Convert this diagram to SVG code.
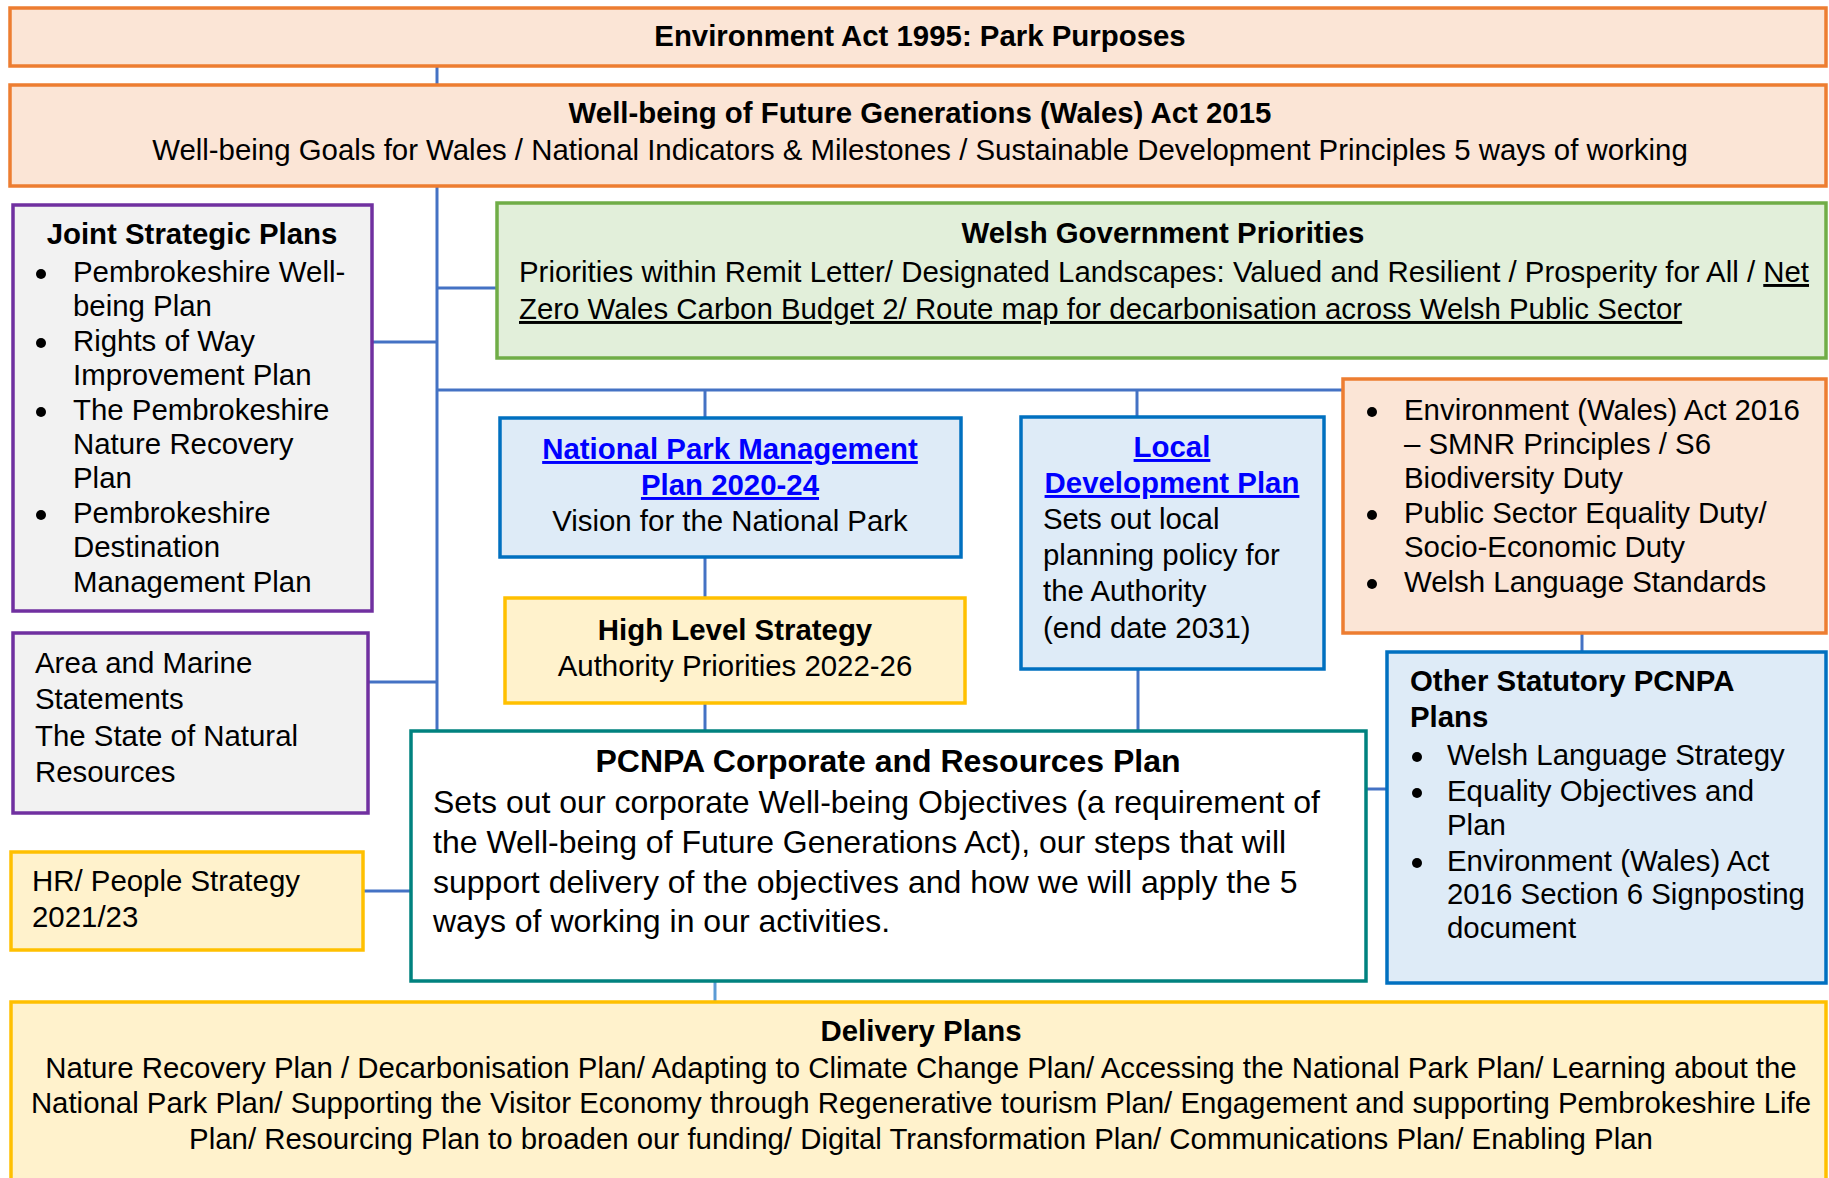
<svg xmlns="http://www.w3.org/2000/svg" width="1829" height="1178" viewBox="0 0 1829 1178">
<style>
text{font-family:"Liberation Sans",Arial,Helvetica,sans-serif;font-size:29.4px;fill:#000}
.b{font-weight:bold}
.c{text-anchor:middle}
.lk{fill:#0000FF;font-weight:bold;text-decoration:underline}
.u{text-decoration:underline}
.big{font-size:32px}
.or{fill:#FBE5D6;stroke:#ED7D31;stroke-width:3.5}
.pu{fill:#F2F2F2;stroke:#7030A0;stroke-width:3.5}
.gr{fill:#E2EFDA;stroke:#70AD47;stroke-width:3.5}
.bl{fill:#DEEBF7;stroke:#0070C0;stroke-width:3.5}
.go{fill:#FFF2CC;stroke:#FFC000;stroke-width:3.5}
.te{fill:#FFFFFF;stroke:#00827F;stroke-width:3.5}
.conn line{stroke:#4472C4;stroke-width:3}
.dot{fill:#000}
</style>
<g id="connectors" class="conn">
<line x1="437" y1="66" x2="437" y2="86"/>
<line x1="437" y1="186" x2="437" y2="731"/>
<line x1="372" y1="342" x2="437" y2="342"/>
<line x1="437" y1="288" x2="497" y2="288"/>
<line x1="437" y1="390" x2="1343" y2="390"/>
<line x1="368" y1="682" x2="437" y2="682"/>
<line x1="705" y1="390" x2="705" y2="418"/>
<line x1="705" y1="557" x2="705" y2="598"/>
<line x1="705" y1="703" x2="705" y2="731"/>
<line x1="1137" y1="390" x2="1137" y2="417"/>
<line x1="1138" y1="669" x2="1138" y2="731"/>
<line x1="1582" y1="633" x2="1582" y2="652"/>
<line x1="1366" y1="789" x2="1387" y2="789"/>
<line x1="363" y1="891" x2="411" y2="891"/>
<line x1="715" y1="981" x2="715" y2="1002" style="stroke:#5B9BD5"/>
</g>
<g id="env1995">
<rect class="or" x="10" y="8" width="1816" height="58"/>
<text class="b c" x="920" y="46">Environment Act 1995: Park Purposes</text>
</g>
<g id="wfg">
<rect class="or" x="10" y="85" width="1816" height="101"/>
<text class="b c" x="920" y="123">Well-being of Future Generations (Wales) Act 2015</text>
<text class="c" x="920" y="160">Well-being Goals for Wales / National Indicators &amp; Milestones / Sustainable Development Principles 5 ways of working</text>
</g>
<g id="jsp">
<rect class="pu" x="13" y="205" width="359" height="406"/>
<text class="b c" x="192" y="244">Joint Strategic Plans</text>
<circle class="dot" cx="41" cy="274" r="5"/>
<circle class="dot" cx="41" cy="343" r="5"/>
<circle class="dot" cx="41" cy="412" r="5"/>
<circle class="dot" cx="41" cy="515" r="5"/>
<text x="73" y="282">Pembrokeshire Well-</text>
<text x="73" y="316">being Plan</text>
<text x="73" y="351">Rights of Way</text>
<text x="73" y="385">Improvement Plan</text>
<text x="73" y="420">The Pembrokeshire</text>
<text x="73" y="454">Nature Recovery</text>
<text x="73" y="488">Plan</text>
<text x="73" y="523">Pembrokeshire</text>
<text x="73" y="557">Destination</text>
<text x="73" y="592">Management Plan</text>
</g>
<g id="wg">
<rect class="gr" x="497" y="203" width="1329" height="155"/>
<text class="b c" x="1163" y="243">Welsh Government Priorities</text>
<text x="519" y="282">Priorities within Remit Letter/ Designated Landscapes: Valued and Resilient / Prosperity for All / <tspan class="u">Net</tspan></text>
<text x="519" y="319" class="u">Zero Wales Carbon Budget 2/ Route map for decarbonisation across Welsh Public Sector</text>
</g>
<g id="npmp">
<rect class="bl" x="500" y="418" width="461" height="139"/>
<text class="lk c" x="730" y="459">National Park Management</text>
<text class="lk c" x="730" y="495">Plan 2020-24</text>
<text class="c" x="730" y="531">Vision for the National Park</text>
</g>
<g id="hls">
<rect class="go" x="505" y="598" width="460" height="105"/>
<text class="b c" x="735" y="640">High Level Strategy</text>
<text class="c" x="735" y="676">Authority Priorities 2022-26</text>
</g>
<g id="ldp">
<rect class="bl" x="1021" y="417" width="303" height="252"/>
<text class="lk c" x="1172" y="457">Local</text>
<text class="lk c" x="1172" y="493">Development Plan</text>
<text x="1043" y="529">Sets out local</text>
<text x="1043" y="565">planning policy for</text>
<text x="1043" y="601">the Authority</text>
<text x="1043" y="638">(end date 2031)</text>
</g>
<g id="env2016">
<rect class="or" x="1343" y="379" width="483" height="254"/>
<circle class="dot" cx="1372" cy="412" r="5"/>
<circle class="dot" cx="1372" cy="515" r="5"/>
<circle class="dot" cx="1372" cy="584" r="5"/>
<text x="1404" y="420">Environment (Wales) Act 2016</text>
<text x="1404" y="454">– SMNR Principles / S6</text>
<text x="1404" y="488">Biodiversity Duty</text>
<text x="1404" y="523">Public Sector Equality Duty/</text>
<text x="1404" y="557">Socio-Economic Duty</text>
<text x="1404" y="592">Welsh Language Standards</text>
</g>
<g id="other">
<rect class="bl" x="1387" y="652" width="439" height="331"/>
<text class="b" x="1410" y="691">Other Statutory PCNPA</text>
<text class="b" x="1410" y="727">Plans</text>
<circle class="dot" cx="1417" cy="757" r="5"/>
<circle class="dot" cx="1417" cy="793" r="5"/>
<circle class="dot" cx="1417" cy="863" r="5"/>
<text x="1447" y="765">Welsh Language Strategy</text>
<text x="1447" y="801">Equality Objectives and</text>
<text x="1447" y="835">Plan</text>
<text x="1447" y="871">Environment (Wales) Act</text>
<text x="1447" y="904">2016 Section 6 Signposting</text>
<text x="1447" y="938">document</text>
</g>
<g id="ams">
<rect class="pu" x="13" y="633" width="355" height="180"/>
<text x="35" y="673">Area and Marine</text>
<text x="35" y="709">Statements</text>
<text x="35" y="746">The State of Natural</text>
<text x="35" y="782">Resources</text>
</g>
<g id="hr">
<rect class="go" x="11" y="852" width="352" height="98"/>
<text x="32" y="891">HR/ People Strategy</text>
<text x="32" y="927">2021/23</text>
</g>
<g id="pcnpa">
<rect class="te" x="411" y="731" width="955" height="250"/>
<text class="b c big" x="888" y="772">PCNPA Corporate and Resources Plan</text>
<text class="big" x="433" y="813">Sets out our corporate Well-being Objectives (a requirement of</text>
<text class="big" x="433" y="853">the Well-being of Future Generations Act), our steps that will</text>
<text class="big" x="433" y="893">support delivery of the objectives and how we will apply the 5</text>
<text class="big" x="433" y="932">ways of working in our activities.</text>
</g>
<g id="delivery">
<rect class="go" x="11" y="1002" width="1815" height="200"/>
<text class="b c" x="921" y="1041">Delivery Plans</text>
<text class="c" x="921" y="1078">Nature Recovery Plan / Decarbonisation Plan/ Adapting to Climate Change Plan/ Accessing the National Park Plan/ Learning about the</text>
<text class="c" x="921" y="1113">National Park Plan/ Supporting the Visitor Economy through Regenerative tourism Plan/ Engagement and supporting Pembrokeshire Life</text>
<text class="c" x="921" y="1149">Plan/ Resourcing Plan to broaden our funding/ Digital Transformation Plan/ Communications Plan/ Enabling Plan</text>
</g>
</svg>
